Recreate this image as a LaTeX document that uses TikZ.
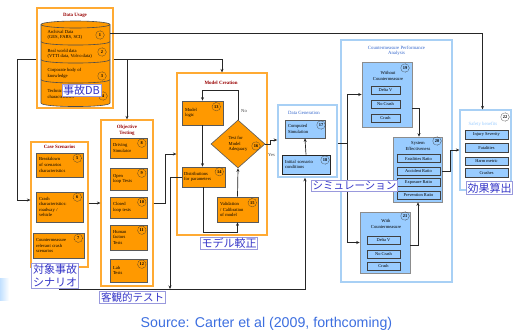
\documentclass[tikz,border=0pt]{standalone}
\usepackage{fontspec}
\setmainfont{Liberation Serif}
\newfontfamily\jfont{Noto Sans CJK JP}
\newfontfamily\srcfont{Liberation Sans}
\usetikzlibrary{arrows.meta,calc,shapes.geometric}
\definecolor{orF}{HTML}{FF9900}
\definecolor{orB}{HTML}{FFAA33}
\definecolor{dred}{HTML}{990000}
\definecolor{blF}{HTML}{99CCFF}
\definecolor{blB}{HTML}{A8D0F5}
\definecolor{blT}{HTML}{3366CC}
\definecolor{jT}{HTML}{3535C8}
\definecolor{jB}{HTML}{9999DD}
\definecolor{srcC}{HTML}{3D6FE0}
\tikzset{
 smalltxt/.style={font=\fontsize{4.6}{5.6}\selectfont},
 bx/.style n args={3}{minimum width=#1pt,minimum height=#2pt,text width=#3pt},
 outerO/.style={draw=orB,line width=1.2pt,fill=white},
 obox/.style={draw=black!65,line width=0.6pt,fill=orF,font=\fontsize{4.6}{5.6}\selectfont,align=left,inner sep=1pt},
 outerB/.style={draw=blB,line width=1.5pt,fill=white},
 bbox/.style={draw=black!65,line width=0.6pt,fill=blF,font=\fontsize{4.6}{5.6}\selectfont,align=left,inner sep=1pt},
 bbig/.style={draw=black!45,line width=0.6pt,fill=blF},
 sbox/.style={draw=black!75,line width=0.5pt,fill=blF,font=\fontsize{4.4}{5}\selectfont,inner sep=0pt},
 num/.style={circle,draw=black!80,dash pattern=on 0.8pt off 0.6pt,line width=0.4pt,minimum size=8.5pt,inner sep=0pt,font=\fontsize{4.4}{5}\selectfont\bfseries},
 ttl/.style={text=dred,font=\fontsize{4.9}{5.7}\selectfont\bfseries,align=center},
 btitle/.style={text=blT,font=\fontsize{4.8}{5.6}\selectfont,align=center},
 conn/.style={draw=black!85,line width=0.7pt},
 arr/.style={conn,-{Stealth[length=3.5pt,width=3pt]}},
 jlab/.style={draw=jB,line width=0.8pt,fill=white,text=jT,font=\jfont\fontsize{11}{13}\selectfont,inner sep=1.2pt,align=left},
}
\begin{document}
\begin{tikzpicture}[x=1pt,y=-1pt]
\useasboundingbox (0,0) rectangle (514,333);
\fill[white] (0,0) rectangle (514,333);
\fill[left color=blF!60,right color=white] (0,278) rectangle (9,300);

% ---------- Data Usage ----------
\node[outerO,minimum width=76pt,minimum height=100pt] (du) at (75,58) {};
\node[ttl] at (75,15) {Data Usage};
\fill[orF] (41,24.5) -- (41,103) .. controls (41,107.7) and (110,107.7) .. (110,103) -- (110,24.5) -- cycle;
\draw[black!70,line width=0.6pt] (41,24.5) -- (41,103) .. controls (41,107.7) and (110,107.7) .. (110,103) -- (110,24.5);
\draw[black!70,line width=0.6pt,fill=orF] (75.5,24.5) ellipse [x radius=34.5,y radius=3.5];
\draw[black!70,line width=0.6pt] (41,41.5) .. controls (41,46.2) and (110,46.2) .. (110,41.5);
\draw[black!70,line width=0.6pt] (41,59.5) .. controls (41,64.2) and (110,64.2) .. (110,59.5);
\draw[black!70,line width=0.6pt] (41,79.5) .. controls (41,84.2) and (110,84.2) .. (110,79.5);
\node[smalltxt,anchor=west,align=left] at (44,35) {Archival Data\\(GES, FARS, SCI)};
\node[smalltxt,anchor=west,align=left] at (44,54) {Real world data\\(VTTI data, Volvo data)};
\node[smalltxt,anchor=west,align=left] at (44,73.5) {Corporate body of\\knowledge};
\node[smalltxt,anchor=west,align=left] at (44,94) {Technical\\characteristics};
\node[num] (n1) at (100,35) {1};
\node[num] (n2) at (102,52) {2};
\node[num] (n3) at (102,76) {3};
\node[num] (n4) at (103,96) {4};
\coordinate (s1) at (110,33);

% ---------- Case Scenarios ----------
\node[outerO,minimum width=57pt,minimum height=125pt] (cs) at (59.5,204.5) {};
\node[ttl] at (59.5,147) {Case Scenarios};
\node[obox,bx={47}{24}{41}] (b5) at (59.5,165) {Breakdown\\of scenarios\\characteristics};
\node[num] at ($(b5.north east)+(-6,5.5)$) {5};
\node[obox,bx={47}{30}{41}] (b6) at (59.5,207) {Crash\\characteristics:\\roadway /\\vehicle};
\node[num] at ($(b6.north east)+(-6,5.5)$) {6};
\node[obox,bx={51}{25}{45}] (b7) at (58.5,245.5) {Countermeasure\\relevant crash\\scenarios};
\node[num] at ($(b7.north east)+(-6,5.5)$) {7};

% ---------- Objective Testing ----------
\node[outerO,minimum width=52pt,minimum height=166pt] (ot) at (127,203) {};
\node[ttl] at (127,130) {Objective\\Testing};
\node[obox,bx={37}{20}{31}] (b8) at (128.5,148) {Driving\\Simulator};
\node[num] at ($(b8.north east)+(-5.5,5.5)$) {8};
\node[obox,bx={37}{22}{31}] (b9) at (128.5,179) {Open\\loop Tests};
\node[num] at ($(b9.north east)+(-5.5,5.5)$) {9};
\node[obox,bx={37}{21}{31}] (b10) at (128.5,207.5) {Closed\\loop tests};
\node[num] at ($(b10.north east)+(-5.5,5.5)$) {10};
\node[obox,bx={37}{25}{31}] (b11) at (128.5,237.5) {Human\\factors\\Tests};
\node[num] at ($(b11.north east)+(-5.5,5.5)$) {11};
\node[obox,bx={37}{23}{31}] (b12) at (128.5,270.5) {Lab\\Tests};
\node[num] at ($(b12.north east)+(-5.5,5.5)$) {12};

% ---------- Model Creation ----------
\node[outerO,minimum width=90pt,minimum height=162pt] (mc) at (222,154) {};
\node[ttl] at (221,83) {Model Creation};
\node[obox,bx={41}{24}{35}] (b13) at (202.5,113) {Model\\logic};
\node[num] at ($(b13.north east)+(-7,6)$) {13};
\node[obox,bx={43}{20}{39}] (b14) at (203.5,177) {Distributions\\for parameters};
\node[num] at ($(b14.north east)+(-6,5)$) {14};
\node[obox,diamond,minimum width=54pt,minimum height=48pt,aspect=1.125,inner sep=0pt] (b16) at (238,144) {Test for\\Model\\Adequacy};
\node[num] at (256,146) {16};
\node[obox,bx={41}{25}{35}] (b15) at (237.5,209.5) {Validation\\/ Calibration\\of model};
\node[num] at ($(b15.north east)+(-6,6)$) {15};
\node[smalltxt,text=black!75] (no) at (244,111) {No};

% ---------- Data Generation ----------
\node[outerB,minimum width=59pt,minimum height=72pt] (dg) at (307.5,141) {};
\node[btitle] at (304,113) {Data Generation};
\node[bbox,bx={40}{18}{34}] (b17) at (305,129) {Computed\\Simulation};
\node[num] at (321,125) {17};
\node[bbox,bx={48}{19}{42},draw=black!85] (b18) at (306,164.5) {Initial scenario\\conditions};
\node[num] at (325,160) {18};
\node[smalltxt,text=black!75] (yes) at (271.5,155) {Yes};

% ---------- Countermeasure Performance Analysis ----------
\node[outerB,minimum width=111pt,minimum height=242pt] (cpa) at (396.5,161) {};
\node[btitle] at (396.5,51) {Countermeasure Performance\\Analysis};
\node[bbig,minimum width=50pt,minimum height=65pt] (wo) at (387,94.5) {};
\node[smalltxt,align=center] at (388,76) {Without\\Countermeasure};
\node[num] at (405,68) {19};
\node[sbox,minimum width=29pt,minimum height=8pt] (wo1) at (385.5,90) {Delta V};
\node[sbox,minimum width=29pt,minimum height=8pt] (wo2) at (385.5,104) {No Crash};
\node[sbox,minimum width=29pt,minimum height=8pt] (wo3) at (385.5,118) {Crash};
\node[bbig,minimum width=49pt,minimum height=65pt] (se) at (417.5,169.5) {};
\node[smalltxt,align=center] at (418,146) {System\\Effectiveness};
\node[num] at (437,141) {20};
\node[sbox,minimum width=43pt,minimum height=8pt] (se1) at (418.5,158.5) {Fatalities Ratio};
\node[sbox,minimum width=43pt,minimum height=8pt] (se2) at (418.5,171) {Accident Ratio};
\node[sbox,minimum width=43pt,minimum height=8pt] (se3) at (418.5,182.5) {Exposure Ratio};
\node[sbox,minimum width=43pt,minimum height=8pt] (se4) at (418.5,195) {Prevention Ratio};
\node[bbig,minimum width=50pt,minimum height=61pt] (wi) at (385,242.5) {};
\node[smalltxt,align=center] at (386,224) {With\\Countermeasure};
\node[num] at (405,216) {21};
\node[sbox,minimum width=33pt,minimum height=8pt] (wi1) at (383.5,240.5) {Delta V};
\node[sbox,minimum width=33pt,minimum height=8pt] (wi2) at (383.5,254) {No Crash};
\node[sbox,minimum width=33pt,minimum height=8pt] (wi3) at (383.5,266) {Crash};

% ---------- Safety Benefits ----------
\node[outerB,line width=1.2pt,minimum width=51pt,minimum height=80pt] (sb) at (485.5,150) {};
\node[btitle,text=blF] at (483,124) {Safety benefits};
\node[num] at (505,117) {22};
\node[sbox,minimum width=43pt,minimum height=8.5pt] (sb1) at (486.5,134.5) {Injury Severity};
\node[sbox,minimum width=43pt,minimum height=8.5pt] (sb2) at (486.5,147.5) {Fatalities};
\node[sbox,minimum width=43pt,minimum height=8.5pt] (sb3) at (486.5,161) {Harm metric};
\node[sbox,minimum width=43pt,minimum height=8.5pt] (sb4) at (486.5,172.5) {Crashes};

% ---------- connectors ----------
\coordinate (sbin) at ($(sb.north)+(-3,0)$);
\draw[arr] (s1) -| (sbin);
\coordinate (jl) at (17,59);
\draw[arr] (du.west |- jl) -- (jl) |- (cs.west |- 0,200);
\draw[arr] (du.east |- jl) -- (mc.north |- jl) -- (mc.north);
\draw[arr] (ot.north |- jl) -- (ot.north);
\draw[arr] (cs.east |- 0,203) -- (ot.west |- 0,203);
\coordinate (k1) at (165,154);
\draw[arr] (ot.east |- 0,203) -| (k1) -- (k1 -| mc.west);
\coordinate (k2) at (170,289);
\coordinate (bus) at (305,289);
\draw[arr] (cs.south) |- (bus) -- (bus |- dg.south);
\draw[arr] (b14.west) -| (k2);
\draw[arr] (b13.south) -- (b13.south |- b14.north);
\coordinate (k3) at (237.5,232);
\draw[arr] (b14.south) |- (k3) -- (b15.south);
\draw[arr] (b15.north) -- (b16.south);
\coordinate (k4) at (238,90);
\draw[arr] (b16.north) -- (k4) -| (b13.north);
\coordinate (k5) at (270,140);
\draw[arr] (b16.east) -| (k5) -- (k5 -| dg.west);
\draw[arr] (b18.north) -- (b17.south);
\coordinate (k6) at (347,143);
\draw[conn] (dg.east |- k6) -- (k6);
\draw[arr] (k6) |- (wo.west);
\draw[arr] (k6) |- (wi.west);
\coordinate (k7) at (419,108);
\draw[arr] (wo.east |- k7) -- (k7) -- (k7 |- se.north);
\coordinate (k8) at (418,245);
\draw[arr] (wi.east |- k8) -- (k8) -- (k8 |- se.south);
\coordinate (k9) at (450,171);
\draw[arr] (se.east |- k9) -- (k9) |- (sb.west |- 0,150);

% ---------- Japanese labels ----------
\node[jlab] (l1) at (81.5,90.5) {事故DB};
\node[jlab] (l2) at (55,276) {対象事故\\シナリオ};
\node[jlab,font=\jfont\fontsize{10.5}{12}\selectfont] (l3) at (132.5,297.5) {客観的テスト};
\node[jlab] (l4) at (229,243.5) {モデル較正};
\node[jlab,font=\jfont\fontsize{10.5}{12}\selectfont] (l5) at (354.5,186) {シミュレーション};
\node[jlab] (l6) at (489.5,188) {効果算出};

% ---------- source ----------
\node[text=srcC,font=\srcfont\fontsize{14.2}{16}\selectfont] (src) at (266.5,324) {Source: Carter et al (2009, forthcoming)};
\end{tikzpicture}
\end{document}
